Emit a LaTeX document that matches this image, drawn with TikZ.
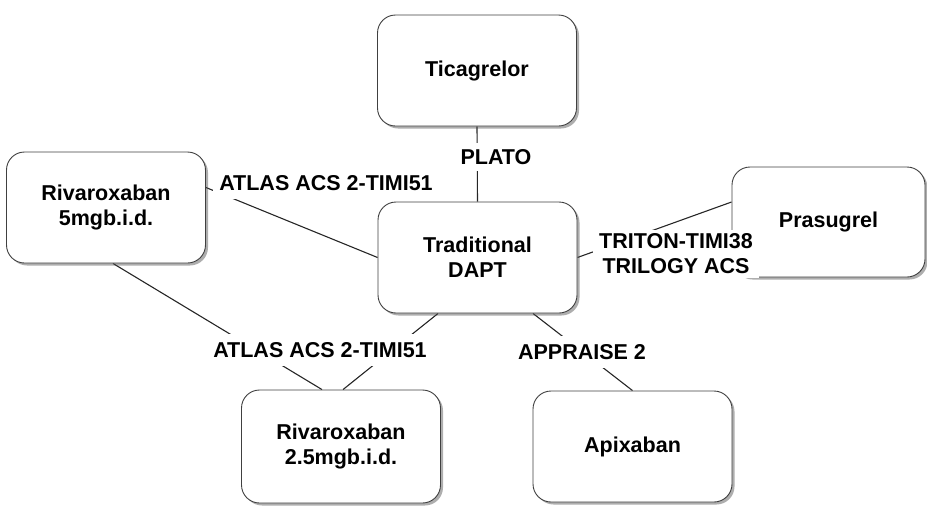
\documentclass[tikz,border=0pt]{standalone}
\usepackage{fontspec}
\setmainfont{Liberation Sans}
\usetikzlibrary{shadows,backgrounds}
\begin{document}
\begin{tikzpicture}[x=1pt,y=-1pt,
  box/.style={draw=black!75, line width=0.9pt, fill=white, rounded corners=18pt,
    minimum width=199pt, minimum height=111pt, align=center,
    font=\fontsize{21.5}{25}\selectfont\bfseries,
    drop shadow={shadow xshift=2.5pt, shadow yshift=-2.5pt, opacity=0.45, fill=black!70}},
  lbl/.style={fill=white, inner xsep=6pt, inner ysep=8pt, align=center,
    font=\fontsize{21.5}{25}\selectfont\bfseries},
  conn/.style={draw=black!85, line width=1.1pt}]
\useasboundingbox (0,0) rectangle (927,507);
% nodes
\node[box] (tic) at (477,70.5) {Ticagrelor};
\node[box] (dapt) at (477.5,257.5) {Traditional\\DAPT};
\node[box] (r5) at (106,207.5) {Rivaroxaban\\5mgb.i.d.};
\node[box, minimum width=193pt, minimum height=110pt] (pras) at (828.5,222) {Prasugrel};
\node[box, minimum height=113pt] (r25) at (341,446.5) {Rivaroxaban\\2.5mgb.i.d.};
\node[box] (apix) at (632.5,446.5) {Apixaban};
% anchor coordinates
\coordinate (r5e) at ([yshift=20pt]r5.east);
\coordinate (r5s) at ([xshift=7pt]r5.south);
\coordinate (praw) at ([yshift=20pt]pras.west);
\coordinate (dsl) at ([xshift=-39.5pt]dapt.south);
\coordinate (dsr) at ([xshift=55.5pt]dapt.south);
\coordinate (r25a) at ([xshift=2pt]r25.north);
\coordinate (r25b) at ([xshift=-19pt]r25.north);
% connectors (behind boxes)
\begin{scope}[on background layer]
\path[conn] (tic.south) -- (dapt.north);
\path[conn] (r5e) -- (dapt.west);
\path[conn] (dapt.east) -- (praw);
\path[conn] (dsl) -- (r25a);
\path[conn] (r5s) -- (r25b);
\path[conn] (dsr) -- (apix.north);
\end{scope}
% labels
\node[lbl, inner ysep=6pt] (lplato) at (496,157) {PLATO};
\node[lbl] (latlas1) at (326,183) {ATLAS ACS 2-TIMI51};
\node[lbl, inner ysep=4pt] (ltriton) at (676,254) {TRITON-TIMI38\\TRILOGY ACS};
\node[lbl] (latlas2) at (320,350) {ATLAS ACS 2-TIMI51};
\node[lbl] (lappr) at (582,352) {APPRAISE 2};
\end{tikzpicture}
\end{document}
